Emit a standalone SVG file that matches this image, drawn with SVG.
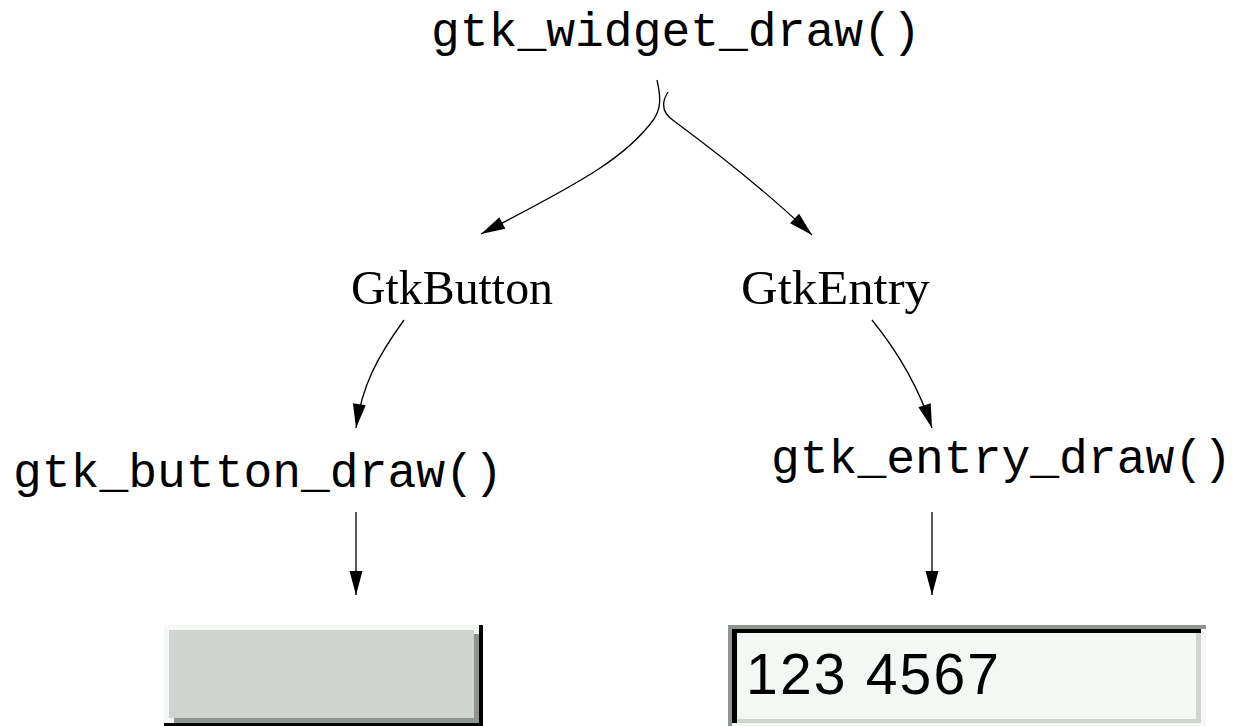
<svg xmlns="http://www.w3.org/2000/svg" width="1235" height="726" viewBox="0 0 1235 726">
  <style>
    .mono { font-family: "Liberation Mono", "Courier New", monospace; font-size: 48px; fill: #000; }
    .serif { font-family: "Liberation Serif", "Times New Roman", serif; font-size: 49px; fill: #000; }
    .digits { font-family: "Liberation Sans", Arial, sans-serif; font-size: 57px; fill: #000; }
    .edge { fill: none; stroke: #000; stroke-width: 1.3; marker-end: url(#arrow); }
  </style>
  <defs>
    <marker id="arrow" markerUnits="userSpaceOnUse" markerWidth="26" markerHeight="14" viewBox="-25 -7 26 14" refX="0" refY="0" orient="auto">
      <path d="M-24,-6.5 L0,0 L-24,6.5 Z" fill="#000"/>
    </marker>
  </defs>
  <rect width="1235" height="726" fill="#fff"/>

  <!-- connectors -->
  <g id="connectors">
    <path class="edge" d="M657,80 C661,98 661,108 654,119 C628,155 590,178 481,234"/>
    <path class="edge" d="M668,92 C661,103 662,113 674,121 C720,155 770,195 812,235"/>
    <path class="edge" d="M404,320 C378,356 362,385 356,428"/>
    <path class="edge" d="M872,320 C898,352 918,385 932,428"/>
    <path class="edge" d="M356,512 L356,595"/>
    <path class="edge" d="M932,512 L932,595"/>
  </g>

  <g id="gtk_widget_draw">
    <text class="mono" x="431" y="46">gtk_widget_draw()</text>
  </g>
  <g id="GtkButton">
    <text class="serif" x="351" y="304" textLength="202" lengthAdjust="spacingAndGlyphs">GtkButton</text>
  </g>
  <g id="GtkEntry">
    <text class="serif" x="741" y="304" textLength="189" lengthAdjust="spacingAndGlyphs">GtkEntry</text>
  </g>
  <g id="gtk_button_draw">
    <text class="mono" x="13" y="487">gtk_button_draw()</text>
  </g>
  <g id="gtk_entry_draw">
    <text class="mono" x="771" y="473">gtk_entry_draw()</text>
  </g>

  <!-- raised button widget -->
  <g id="button_widget">
    <rect x="164" y="625" width="319" height="101" fill="#000"/>
    <rect x="164" y="625" width="315" height="98" fill="#f5f8f5"/>
    <rect x="174" y="634" width="305" height="89" fill="#8f958f"/>
    <rect x="169" y="630" width="305" height="88" fill="#cfd4d0"/>
  </g>

  <!-- sunken entry widget -->
  <g id="entry_widget">
    <rect x="728" y="625" width="478" height="101" fill="#8f958f"/>
    <rect x="732" y="629" width="474" height="97" fill="#f5f8f5"/>
    <rect x="732" y="629" width="469" height="94" fill="#000"/>
    <rect x="737" y="633" width="464" height="90" fill="#cfd4d0"/>
    <rect x="737" y="633" width="459" height="86" fill="#f4f8f4"/>
    <text class="digits" x="746" y="694" textLength="253" lengthAdjust="spacing">123 4567</text>
  </g>
</svg>
